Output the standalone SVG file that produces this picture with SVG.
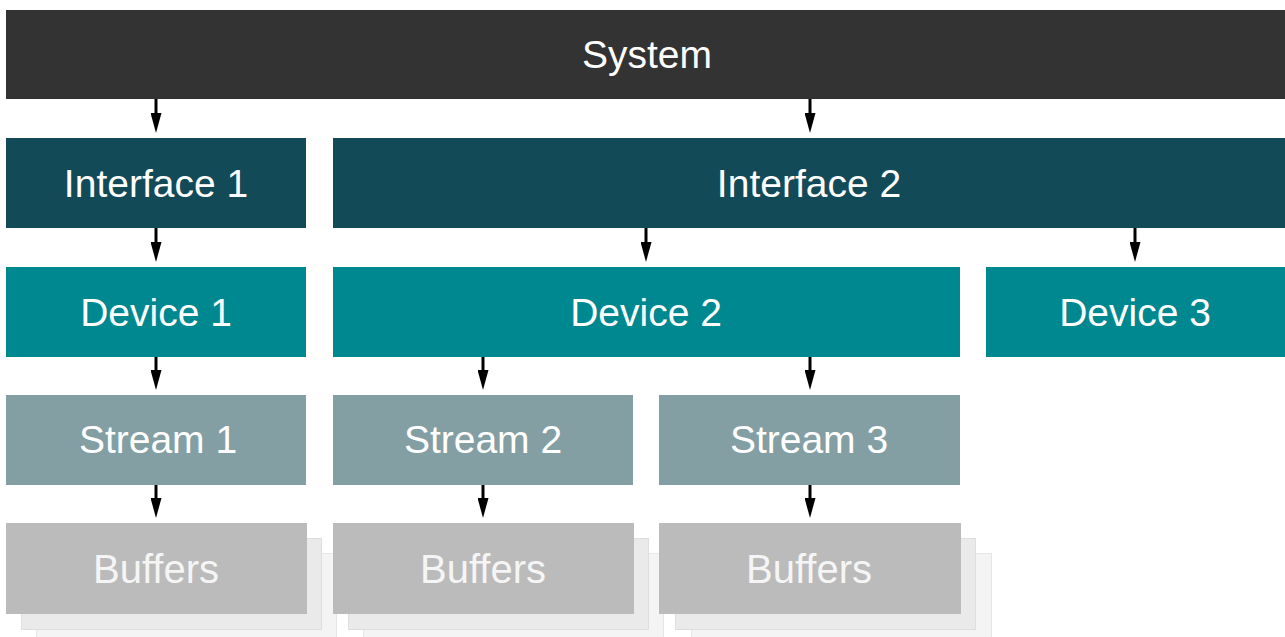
<svg xmlns="http://www.w3.org/2000/svg" width="1285" height="637" viewBox="0 0 1285 637">
<style>
  .lbl{font-family:"Liberation Sans",Arial,sans-serif;font-size:39px;fill:#ffffff;text-anchor:middle}
  .buflbl{fill:#f5f5f5;font-size:40px}
  .sys{fill:#333333}
  .ifc{fill:#134a57}
  .dev{fill:#008891}
  .str{fill:#839fa3}
  .buf{fill:#bbbbbb}
  .sh1{fill:#eaeaea;stroke:#dedede;stroke-width:1}
  .sh2{fill:#f4f4f4;stroke:#e6e6e6;stroke-width:1}
  .conn line{stroke:#000000;stroke-width:3}
</style>
<defs>
  <marker id="ah" markerWidth="20" markerHeight="11" refX="10" refY="5.5" orient="auto" markerUnits="userSpaceOnUse" viewBox="0 0 20 11">
    <path d="M0,0 L20,5.5 L0,11 Z" fill="#000000"/>
  </marker>
</defs>
<rect width="1285" height="637" fill="#ffffff"/>

<g id="system"><rect class="sys" x="6" y="10" width="1279" height="89"/><text class="lbl" x="647" y="68">System</text></g>

<g id="interface1"><rect class="ifc" x="6" y="138" width="300" height="90"/><text class="lbl" x="156" y="197">Interface 1</text></g>
<g id="interface2"><rect class="ifc" x="333" y="138" width="952" height="90"/><text class="lbl" x="809" y="197">Interface 2</text></g>

<g id="device1"><rect class="dev" x="6" y="267" width="300" height="90"/><text class="lbl" x="156" y="326">Device 1</text></g>
<g id="device2"><rect class="dev" x="333" y="267" width="627" height="90"/><text class="lbl" x="646" y="326">Device 2</text></g>
<g id="device3"><rect class="dev" x="986" y="267" width="299" height="90"/><text class="lbl" x="1135" y="326">Device 3</text></g>

<g id="stream1"><rect class="str" x="6" y="395" width="300" height="90"/><text class="lbl" x="158" y="453">Stream 1</text></g>
<g id="stream2"><rect class="str" x="333" y="395" width="300" height="90"/><text class="lbl" x="483" y="453">Stream 2</text></g>
<g id="stream3"><rect class="str" x="659" y="395" width="301" height="90"/><text class="lbl" x="809" y="453">Stream 3</text></g>

<g id="buffers1">
  <rect class="sh2" x="36.5" y="553.5" width="300" height="95"/>
  <rect class="sh1" x="21.5" y="538.5" width="300" height="91"/>
  <rect class="buf" x="6" y="523" width="301" height="91"/>
  <text class="lbl buflbl" x="156" y="583">Buffers</text>
</g>
<g id="buffers2">
  <rect class="sh2" x="363.5" y="553.5" width="300" height="95"/>
  <rect class="sh1" x="348.5" y="538.5" width="300" height="91"/>
  <rect class="buf" x="333" y="523" width="301" height="91"/>
  <text class="lbl buflbl" x="483" y="583">Buffers</text>
</g>
<g id="buffers3">
  <rect class="sh2" x="691.5" y="553.5" width="300" height="95"/>
  <rect class="sh1" x="675.5" y="538.5" width="300" height="91"/>
  <rect class="buf" x="659" y="523" width="302" height="91"/>
  <text class="lbl buflbl" x="809" y="583">Buffers</text>
</g>

<g id="connectors" class="conn">
  <line x1="156" y1="99" x2="156" y2="123" marker-end="url(#ah)"/>
  <line x1="810" y1="99" x2="810" y2="123" marker-end="url(#ah)"/>
  <line x1="156" y1="228" x2="156" y2="252" marker-end="url(#ah)"/>
  <line x1="646" y1="228" x2="646" y2="252" marker-end="url(#ah)"/>
  <line x1="1135" y1="228" x2="1135" y2="252" marker-end="url(#ah)"/>
  <line x1="156" y1="357" x2="156" y2="380" marker-end="url(#ah)"/>
  <line x1="483" y1="357" x2="483" y2="380" marker-end="url(#ah)"/>
  <line x1="810" y1="357" x2="810" y2="380" marker-end="url(#ah)"/>
  <line x1="156" y1="485" x2="156" y2="508" marker-end="url(#ah)"/>
  <line x1="483" y1="485" x2="483" y2="508" marker-end="url(#ah)"/>
  <line x1="810" y1="485" x2="810" y2="508" marker-end="url(#ah)"/>
</g>
</svg>
